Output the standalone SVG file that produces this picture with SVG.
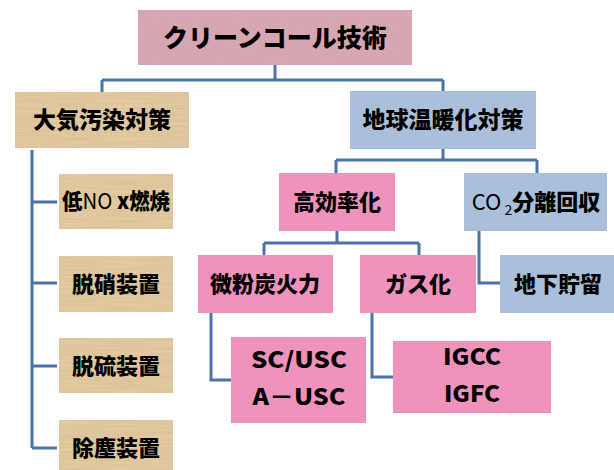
<svg xmlns="http://www.w3.org/2000/svg" width="614" height="470" viewBox="0 0 614 470">
<defs>
<filter id="tex" x="0" y="0" width="1" height="1">
<feTurbulence type="fractalNoise" baseFrequency="0.02 0.6" numOctaves="2" seed="3" result="n"/>
<feColorMatrix in="n" type="matrix" values="0 0 0 0 0  0 0 0 0 0  0 0 0 0 0  0 0 0 0.18 0" result="a"/>
<feComposite in="a" in2="SourceGraphic" operator="atop"/>
</filter>
<filter id="mot" x="0" y="0" width="1" height="1">
<feTurbulence type="fractalNoise" baseFrequency="0.25" numOctaves="2" seed="7" result="n"/>
<feColorMatrix in="n" type="matrix" values="0 0 0 0 0.5  0 0 0 0 0.3  0 0 0 0 0.35  0 0 0 0.12 0" result="a"/>
<feComposite in="a" in2="SourceGraphic" operator="atop"/>
</filter>
</defs>
<style>
.top{fill:#d8a8b2}
.bei{fill:#e9cfa5}
.blu{fill:#aac0da}
.pnk{fill:#ef93bd}
.t{font-family:"Noto Sans CJK JP","Noto Sans",sans-serif;font-weight:900;font-size:22px;fill:#000;text-anchor:middle}
.c{fill:none;stroke:#4a73a7;stroke-width:3}
</style>
<g id="connectors">
<path class="c" d="M275 65V80M102 80H443M102 80V92M443 80V91"/>
<path class="c" d="M32 150V448M32 202H57M32 283H57M32 366H57M32 448H57"/>
<path class="c" d="M443 149V160M336 160H537M336 160V173M537 160V173"/>
<path class="c" d="M337 231V243M264 243H419M264 243V255M419 243V255"/>
<path class="c" d="M479 231V283H500"/>
<path class="c" d="M211 313V380H231"/>
<path class="c" d="M372 313V377H393"/>
</g>
<g id="n-root"><rect class="top" filter="url(#mot)" x="138" y="10" width="274" height="55"/><text class="t" x="275" y="47" style="font-size:25px">クリーンコール技術</text></g>
<g id="n-air"><rect class="bei" filter="url(#tex)" x="15" y="92" width="174" height="56"/><text class="t" x="102" y="128" style="font-size:23px">大気汚染対策</text></g>
<g id="n-warm"><rect class="blu" x="350" y="91" width="186" height="58"/><text class="t" x="443" y="128" style="font-size:23px">地球温暖化対策</text></g>
<g id="n-nox"><rect class="bei" filter="url(#tex)" x="59" y="174" width="114" height="55"/><text class="t" x="116" y="209" textLength="108" lengthAdjust="spacingAndGlyphs">低<tspan style="font-weight:normal">NO</tspan> x燃焼</text></g>
<g id="n-denitr"><rect class="bei" filter="url(#tex)" x="59" y="256" width="114" height="56"/><text class="t" x="116" y="292">脱硝装置</text></g>
<g id="n-desulf"><rect class="bei" filter="url(#tex)" x="59" y="338" width="114" height="55"/><text class="t" x="116" y="374">脱硫装置</text></g>
<g id="n-dust"><rect class="bei" filter="url(#tex)" x="59" y="420" width="114" height="56"/><text class="t" x="116" y="456">除塵装置</text></g>
<g id="n-eff"><rect class="pnk" x="279" y="173" width="116" height="58"/><text class="t" x="337" y="210">高効率化</text></g>
<g id="n-co2"><rect class="blu" x="464" y="173" width="143" height="58"/><text class="t" x="536" y="210"><tspan style="font-weight:normal">CO</tspan><tspan style="font-weight:normal;font-size:14px" dy="5"> 2</tspan><tspan dy="-5">分離回収</tspan></text></g>
<g id="n-pc"><rect class="pnk" x="198" y="255" width="135" height="58"/><text class="t" x="265" y="292">微粉炭火力</text></g>
<g id="n-gas"><rect class="pnk" x="360" y="255" width="116" height="58"/><text class="t" x="418" y="292">ガス化</text></g>
<g id="n-ccs"><rect class="blu" x="500" y="255" width="114" height="58"/><text class="t" x="558" y="292">地下貯留</text></g>
<g id="n-usc"><rect class="pnk" x="231" y="337" width="135" height="86"/><text class="t" x="299" y="368" textLength="96" lengthAdjust="spacingAndGlyphs">SC/USC</text><text class="t" x="299" y="405" textLength="93" lengthAdjust="spacingAndGlyphs">A－USC</text></g>
<g id="n-igcc"><rect class="pnk" x="393" y="341" width="158" height="72"/><text class="t" x="472" y="365" textLength="58" lengthAdjust="spacingAndGlyphs">IGCC</text><text class="t" x="472" y="402" textLength="56" lengthAdjust="spacingAndGlyphs">IGFC</text></g>
</svg>
